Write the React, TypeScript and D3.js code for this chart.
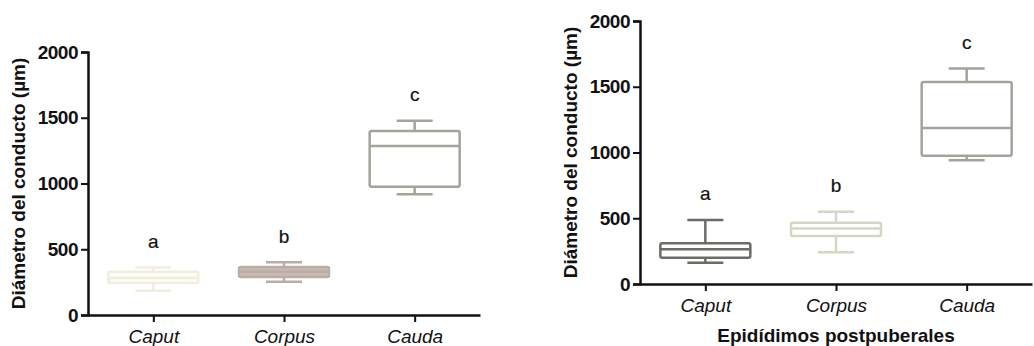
import React, { useEffect, useRef } from 'react';
import * as d3 from 'd3';

const categories = ['Caput', 'Corpus', 'Cauda'];
const groupLetters = ['a', 'b', 'c'];
const yTicks = [0, 500, 1000, 1500, 2000];

// left panel
const leftMin = [185, 253, 918];
const leftQ1 = [243, 289, 976];
const leftMedian = [281, 329, 1285];
const leftQ3 = [329, 365, 1399];
const leftMax = [362, 401, 1477];

// right panel (postpuberales)
const rightMin = [162, 241, 942];
const rightQ1 = [200, 365, 975];
const rightMedian = [264, 423, 1187];
const rightQ3 = [309, 466, 1537];
const rightMax = [486, 549, 1638];

const leftStroke = ['#f1eee0', '#b8aea6', '#a4a49b'];
const leftFill = ['#fdfcf7', '#c8b9b2', '#ffffff'];
const rightStroke = ['#6a6d65', '#d6d6c6', '#a3a39b'];
const rightFill = ['#ffffff', '#ffffff', '#ffffff'];

const FONT = '"Liberation Sans", Arial, sans-serif';

const drawPanel = (svg, p) => {
	const g = svg.append('g');

	const y = d3.scaleLinear().domain([0, 2000]).range([p.bottom, p.top]);
	const x = d3.scalePoint().domain(categories).range([p.left, p.left + 392]).padding(0.5);
	const boxW = 90;
	const capW = 36;

	// y axis
	const yAxis = d3.axisLeft(y).tickValues(yTicks).tickSize(7).tickPadding(3).tickFormat(d3.format('d'));
	const ya = g.append('g').attr('transform', `translate(${p.left},0)`).call(yAxis);
	ya.select('.domain').attr('stroke', '#111').attr('stroke-width', 2.5);
	ya.selectAll('.tick line').attr('stroke', '#111').attr('stroke-width', 2);
	ya.selectAll('.tick text')
		.attr('fill', '#111')
		.style('font-family', FONT)
		.style('font-size', '19px')
		.style('font-weight', 'bold')
		.style('letter-spacing', '-0.5px');

	// x axis
	const xAxis = d3.axisBottom(x).tickSize(7).tickPadding(7.5).tickSizeOuter(0);
	const xa = g.append('g').attr('transform', `translate(0,${p.bottom})`).call(xAxis);
	xa.select('.domain').attr('stroke', '#111').attr('stroke-width', 2.5);
	xa.selectAll('.tick line').attr('stroke', '#111').attr('stroke-width', 2);
	xa.selectAll('.tick text')
		.attr('fill', '#111')
		.style('font-family', FONT)
		.style('font-size', '19px')
		.style('font-style', 'italic');

	// boxes
	categories.forEach((c, i) => {
		const cx = x(c);
		const col = p.stroke[i];
		const bg = g.append('g').attr('stroke', col).attr('stroke-width', 2.5).attr('fill', 'none');
		bg.append('line').attr('x1', cx).attr('x2', cx).attr('y1', y(p.max[i])).attr('y2', y(p.q3[i]));
		bg.append('line').attr('x1', cx).attr('x2', cx).attr('y1', y(p.q1[i])).attr('y2', y(p.min[i]));
		bg.append('line').attr('x1', cx - capW / 2).attr('x2', cx + capW / 2).attr('y1', y(p.max[i])).attr('y2', y(p.max[i]));
		bg.append('line').attr('x1', cx - capW / 2).attr('x2', cx + capW / 2).attr('y1', y(p.min[i])).attr('y2', y(p.min[i]));
		bg.append('rect')
			.attr('x', cx - boxW / 2)
			.attr('y', y(p.q3[i]))
			.attr('width', boxW)
			.attr('height', y(p.q1[i]) - y(p.q3[i]))
			.attr('rx', 2)
			.attr('fill', p.fill[i]);
		bg.append('line').attr('x1', cx - boxW / 2).attr('x2', cx + boxW / 2).attr('y1', y(p.med[i])).attr('y2', y(p.med[i]));

		g.append('text')
			.text(groupLetters[i])
			.attr('x', cx)
			.attr('y', y(p.max[i] + 150))
			.attr('text-anchor', 'middle')
			.attr('fill', '#111')
			.attr('stroke', '#111')
			.attr('stroke-width', 0.2)
			.style('font-family', FONT)
			.style('font-size', '19px');
	});

	// y title
	g.append('text')
		.text('Diámetro del conducto (µm)')
		.attr('transform', `translate(${p.left - 63},${(p.top + p.bottom) / 2}) rotate(-90)`)
		.attr('text-anchor', 'middle')
		.attr('fill', '#111')
		.style('font-family', FONT)
		.style('font-size', '19px')
		.style('font-weight', 'bold');

	if (p.xTitle) {
		g.append('text')
			.text(p.xTitle)
			.attr('x', x('Corpus'))
			.attr('y', p.bottom + 58)
			.attr('text-anchor', 'middle')
			.attr('fill', '#111')
			.style('font-family', FONT)
			.style('font-size', '19px')
			.style('font-weight', 'bold');
	}
};

const App = () => {
	const ref = useRef(null);

	useEffect(() => {
		const svg = d3.select(ref.current);
		svg.selectAll('*').remove();
		svg.append('rect').attr('width', 1034).attr('height', 346).attr('fill', '#fff');

		drawPanel(svg, {
			left: 88, top: 52, bottom: 315,
			min: leftMin, q1: leftQ1, med: leftMedian, q3: leftQ3, max: leftMax,
			stroke: leftStroke, fill: leftFill,
		});
		drawPanel(svg, {
			left: 640, top: 21, bottom: 284,
			min: rightMin, q1: rightQ1, med: rightMedian, q3: rightQ3, max: rightMax,
			stroke: rightStroke, fill: rightFill,
			xTitle: 'Epidídimos postpuberales',
		});
	}, []);

	return (
		<svg ref={ref} width={1034} height={346} style={{ position: 'absolute', left: 0, top: 0, display: 'block' }} />
	);
};

export default App;
